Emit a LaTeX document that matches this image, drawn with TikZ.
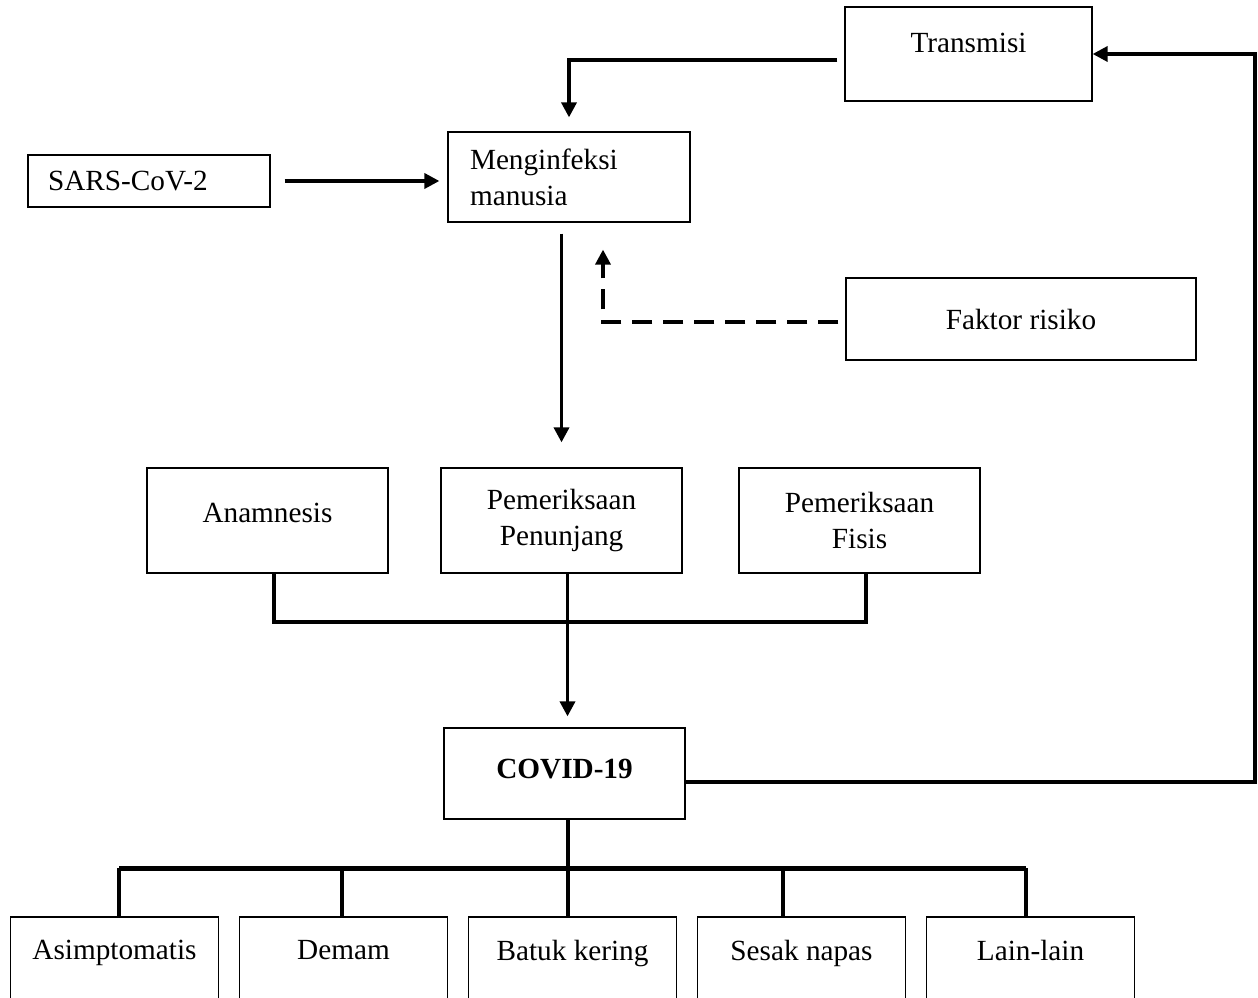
\documentclass[tikz,border=0pt]{standalone}
\usepackage{fontspec}
\setmainfont{Liberation Serif}
\usetikzlibrary{arrows.meta,positioning}

\begin{document}
\begin{tikzpicture}[x=0.4pt,y=-0.4pt]
\tikzstyle{box}=[rectangle, draw=black, line width=0.5pt, inner sep=0pt,
font=\fontsize{11.7}{14.4}\selectfont, align=center]
\tikzstyle{sym}=[box, minimum width=83.4pt, minimum height=45.2pt,
text depth=18.8pt, node distance=91.6pt]
\tikzstyle{link}=[line width=1.4pt, -{Triangle[length=6pt,width=6pt]}]
\tikzstyle{dlink}=[link, dash pattern=on 8pt off 4.4pt]
\tikzstyle{bar}=[line width=1.4pt]
\useasboundingbox (0,0) rectangle (1258,998);

\node[box, minimum width=98.8pt, minimum height=37.6pt, text depth=8.8pt] at (968.5,54) (trans) {Transmisi};
\node[box, minimum width=96.8pt, minimum height=36pt, text width=79.2pt, align=left] at (569,177) (infect) {Menginfeksi\\manusia};
\node[box, minimum width=96.8pt, minimum height=20.8pt, text width=80.8pt, align=left] at (149,181) (sars) {SARS-CoV-2};
\node[box, minimum width=140pt, minimum height=32.8pt] at (1021,319) (risk) {Faktor risiko};

\node[box, minimum width=96.4pt, minimum height=42pt, text depth=6.4pt] at (267.5,520.5) (anam) {Anamnesis};
\node[box, minimum width=96.4pt, minimum height=42pt, right of=anam, node distance=117.6pt] (lab) {Pemeriksaan\\Penunjang};
\node[box, minimum width=96.4pt, minimum height=42pt, right of=lab, node distance=119.2pt] (phys) {Pemeriksaan\\Fisis};

\node[box, minimum width=96.4pt, minimum height=36.4pt, text depth=4pt,
font=\fontsize{11.7}{14.4}\selectfont\bfseries] at (564.5,773.5) (covid) {COVID-19};

\node[sym] at (114.5,973.5) (asym) {Asimptomatis};
\node[sym, right of=asym] (fever) {Demam};
\node[sym, right of=fever] (cough) {Batuk kering};
\node[sym, right of=cough] (breath) {Sesak napas};
\node[sym, right of=breath] (other) {Lain-lain};

\coordinate (join) at (567.5,622);
\coordinate (turn) at (1255,54);
\coordinate (hub) at (568,868);

\draw[link, shorten <=5.6pt, shorten >=3.2pt] (sars.east) -- (sars.east -| infect.west);
\draw[link, shorten >=5.6pt] ([xshift=-2.8pt,yshift=-2.4pt]trans.west) -| (infect.north);
\draw[link, shorten <=4.4pt, shorten >=10pt] (infect.south -| lab.north) -- (lab.north);
\draw[dlink] ([xshift=-2.8pt,yshift=-1.2pt]risk.west) -| ([xshift=13.6pt,yshift=-10.8pt]infect.south);

\draw[bar, line width=1.6pt] ([xshift=2.6pt]anam.south) |- (join) -| ([xshift=2.6pt]phys.south);
\draw[link, shorten >=4.4pt] ([xshift=2.4pt]lab.south) -- ([xshift=2.4pt]lab.south |- covid.north);

\draw[link] ([yshift=-3.4pt]covid.east) -| (turn) -- (trans.east);

\draw[bar] (covid.south -| hub) -- (hub);
\foreach \x/\n in {119/asym,342/fever,568/cough,783/breath,1026/other}{
  \coordinate (b\n) at (\x,868);
  \draw[bar] (b\n) -- (b\n |- \n.north);
}
\draw[line width=2pt] (basym) -- (bother);

\end{tikzpicture}
\end{document}
